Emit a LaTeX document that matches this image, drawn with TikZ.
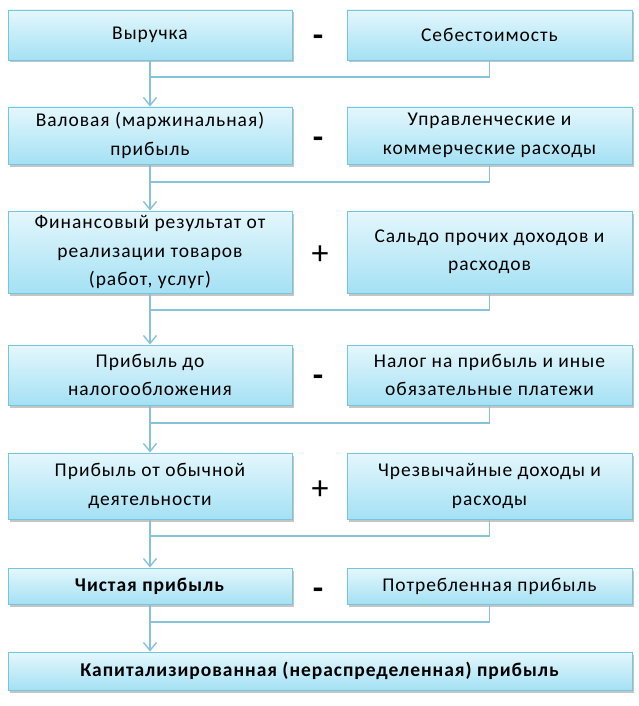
\documentclass[tikz,border=0pt]{standalone}
\usepackage{fontspec}
\setmainfont{Carlito}[LetterSpace=5]
\usetikzlibrary{arrows.meta,shadows}
\definecolor{bxline}{HTML}{74C6DE}
\definecolor{bxtop}{HTML}{E4F7FC}
\definecolor{bxbot}{HTML}{A4E1F4}
\definecolor{cline}{HTML}{86C3D8}
\tikzset{
  bx/.style={draw=bxline, line width=0.9pt, top color=bxtop, bottom color=bxbot,
    align=center, font=\fontsize{19.5}{28.5}\selectfont, inner sep=0pt,
    drop shadow={shadow xshift=2pt, shadow yshift=-2.5pt, fill=black!45, opacity=0.5}},
  lb/.style={bx, minimum width=284pt},
  rb/.style={bx, minimum width=285pt},
  sgn/.style={font=\fontsize{34}{34}\selectfont, inner sep=0pt},
  conn/.style={draw=cline, line width=1.6pt},
  arr/.style={conn, -{Straight Barb[length=8pt,width=13pt,line width=1.4pt]}}
}
\begin{document}
\begin{tikzpicture}[x=1pt,y=-1pt]
\useasboundingbox (0,0) rectangle (639,706);
% row 1
\node[lb, minimum height=50pt] (L1) at (150,35) {Выручка};
\node[rb, minimum height=50pt] (R1) at (489.5,35) {Себестоимость};
\node[sgn] (S1) at (319,41) {\textbf{-}};
% row 2
\node[lb, minimum height=57pt] (L2) at (150,135.5) {Валовая (маржинальная)\\прибыль};
\node[rb, minimum height=57pt] (R2) at (489.5,135.5) {Управленческие и\\коммерческие расходы};
\node[sgn] (S2) at (319,143) {\textbf{-}};
% row 3
\node[lb, minimum height=82pt] (L3) at (150,252) {Финансовый результат от\\реализации товаров\\(работ, услуг)};
\node[rb, minimum height=82pt] (R3) at (489.5,252) {Сальдо прочих доходов и\\расходов};
\node[sgn] (S3) at (320,255) {+};
% row 4
\node[lb, minimum height=60pt] (L4) at (150,375) {Прибыль до\\налогообложения};
\node[rb, minimum height=60pt] (R4) at (489.5,375) {Налог на прибыль и иные\\обязательные платежи};
\node[sgn] (S4) at (319,381) {\textbf{-}};
% row 5
\node[lb, minimum height=66pt] (L5) at (150,486) {Прибыль от обычной\\деятельности};
\node[rb, minimum height=66pt] (R5) at (489.5,486) {Чрезвычайные доходы и\\расходы};
\node[sgn] (S5) at (320,490) {+};
% row 6
\node[lb, minimum height=36pt] (L6) at (150,586) {\textbf{Чистая прибыль}};
\node[rb, minimum height=36pt] (R6) at (489.5,586) {Потребленная прибыль};
\node[sgn] (S6) at (319,594) {\textbf{-}};
% row 7
\node[bx, minimum width=624pt, minimum height=38pt] (L7) at (320,671) {\textbf{Капитализированная (нераспределенная) прибыль}};
% connectors
\coordinate (H1) at (150,77);
\coordinate (H2) at (150,182);
\coordinate (H3) at (150,310);
\coordinate (H4) at (150,423);
\coordinate (H5) at (150,536);
\coordinate (H6) at (150,622);
\foreach \i/\j in {1/2,2/3,3/4,4/5,5/6,6/7}{
  \draw[conn] (R\i.south) |- (H\i);
  \draw[arr] (L\i.south) -- (L\i.south |- L\j.north);
}
\end{tikzpicture}
\end{document}
